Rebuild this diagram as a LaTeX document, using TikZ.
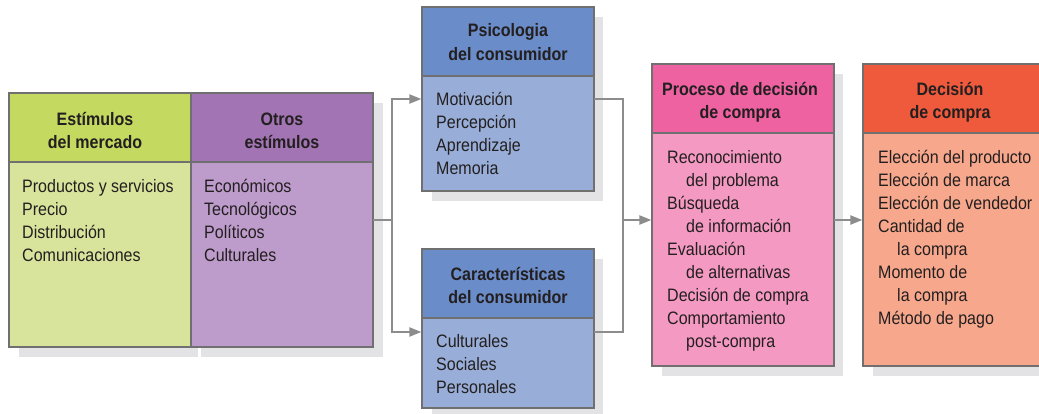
\documentclass[tikz,border=0pt]{standalone}
\usepackage{fontspec}
\setmainfont{Liberation Sans}[FakeStretch=0.89]
\usetikzlibrary{arrows.meta}
\definecolor{gH}{HTML}{C4D960}
\definecolor{gB}{HTML}{D8E49B}
\definecolor{pH}{HTML}{A274B4}
\definecolor{pB}{HTML}{BD9BCB}
\definecolor{bH}{HTML}{6A8CC8}
\definecolor{bB}{HTML}{98AED8}
\definecolor{kH}{HTML}{EE62A2}
\definecolor{kB}{HTML}{F49AC2}
\definecolor{oH}{HTML}{F05A3C}
\definecolor{oB}{HTML}{F7A88C}
\definecolor{edge}{HTML}{707070}
\definecolor{shad}{HTML}{E3E3E5}
\definecolor{ink}{HTML}{231F20}
\definecolor{conn}{HTML}{8C8C8C}
\begin{document}
\begin{tikzpicture}[x=1pt,y=-1pt,
  panel/.style={draw=edge, line width=1.1pt, anchor=north west, inner sep=0pt, outer sep=0pt},
  txt/.style={anchor=base west, inner sep=0pt, text=ink, font=\fontsize{18}{22}\selectfont},
  hd/.style={anchor=base, inner sep=0pt, text=ink, font=\bfseries\fontsize{18}{22}\selectfont},
  wire/.style={draw=conn, line width=2pt},
  arr/.style={wire, -{Triangle[length=12pt,width=9pt]}, shorten >=0.6pt}]
\useasboundingbox (0,0) rectangle (1039,413);
\clip (0,0) rectangle (1039,413);
% shadows
\fill[shad] (19,103) rectangle (198,357);
\fill[shad] (201,103) rectangle (383,357);
\fill[shad] (432,17) rectangle (603,201);
\fill[shad] (432,259) rectangle (603,418);
\fill[shad] (662,74) rectangle (843,376);
\fill[shad] (873,74) rectangle (1050,376);
% green
\node[panel, fill=gB, minimum width=182pt, minimum height=254pt] (gr) at (9,93) {};
\node[panel, fill=gH, minimum width=182pt, minimum height=69pt] (grh) at (9,93) {};
% purple
\node[panel, fill=pB, minimum width=182pt, minimum height=254pt] (pu) at (191,93) {};
\node[panel, fill=pH, minimum width=182pt, minimum height=69pt] (puh) at (191,93) {};
% psicologia
\node[panel, fill=bB, minimum width=172pt, minimum height=184pt] (ps) at (422,7) {};
\node[panel, fill=bH, minimum width=172pt, minimum height=69pt] (psh) at (422,7) {};
% caracteristicas
\node[panel, fill=bB, minimum width=172pt, minimum height=159pt] (ca) at (422,249) {};
\node[panel, fill=bH, minimum width=172pt, minimum height=69pt] (cah) at (422,249) {};
% proceso
\node[panel, fill=kB, minimum width=182pt, minimum height=302pt] (pk) at (652,64) {};
\node[panel, fill=kH, minimum width=182pt, minimum height=69pt] (pkh) at (652,64) {};
% decision
\node[panel, fill=oB, minimum width=184pt, minimum height=302pt] (od) at (863,64) {};
\node[panel, fill=oH, minimum width=184pt, minimum height=69pt] (odh) at (863,64) {};
% headers
\node[hd] (h1a) at (95,125) {Estímulos};
\node[hd] (h1b) at (95,148) {del mercado};
\node[hd] (h2a) at (282,125) {Otros};
\node[hd] (h2b) at (282,148) {estímulos};
\node[hd] (h3a) at (508,36) {Psicologia};
\node[hd] (h3b) at (508,60) {del consumidor};
\node[hd] (h4a) at (508,280) {Características};
\node[hd] (h4b) at (508,303) {del consumidor};
\node[hd] (h5a) at (740,95) {Proceso de decisión};
\node[hd] (h5b) at (740,118) {de compra};
\node[hd] (h6a) at (950,95) {Decisión};
\node[hd] (h6b) at (950,118) {de compra};
% body texts
\foreach \t [count=\i from 0] in {Productos y servicios, Precio, Distribución, Comunicaciones}
  \node[txt] (gt\i) at (22,192.5+23*\i) {\t};
\foreach \t [count=\i from 0] in {Económicos, Tecnológicos, Políticos, Culturales}
  \node[txt] (pt\i) at (204,192.5+23*\i) {\t};
\foreach \t [count=\i from 0] in {Motivación, Percepción, Aprendizaje, Memoria}
  \node[txt] (st\i) at (436,105+23*\i) {\t};
\foreach \t [count=\i from 0] in {Culturales, Sociales, Personales}
  \node[txt] (ct\i) at (436,347+23*\i) {\t};
\foreach \t [count=\i from 0] in {Reconocimiento, \hspace*{19pt}del problema, Búsqueda, \hspace*{19pt}de información, Evaluación, \hspace*{19pt}de alternativas, Decisión de compra, Comportamiento, \hspace*{19pt}post-compra}
  \node[txt] (kt\i) at (667,163+23*\i) {\t};
\foreach \t [count=\i from 0] in {Elección del producto, Elección de marca, Elección de vendedor, Cantidad de, \hspace*{19pt}la compra, Momento de, \hspace*{19pt}la compra, Método de pago}
  \node[txt] (ot\i) at (878,163+23*\i) {\t};
% connectors
\coordinate (j1) at (392,220);
\coordinate (j2) at (623,220);
\draw[wire] (pu.east) -- (j1);
\draw[arr] (j1) |- (ps.west);
\draw[arr] (j1) |- ([yshift=-3.5pt]ca.west);
\draw[wire] (ps.east) -| (j2) |- ([yshift=-3.5pt]ca.east);
\draw[arr] (j2) -- (j2 -| pk.west);
\draw[arr] (j2 -| pk.east) -- (j2 -| od.west);
\end{tikzpicture}
\end{document}
